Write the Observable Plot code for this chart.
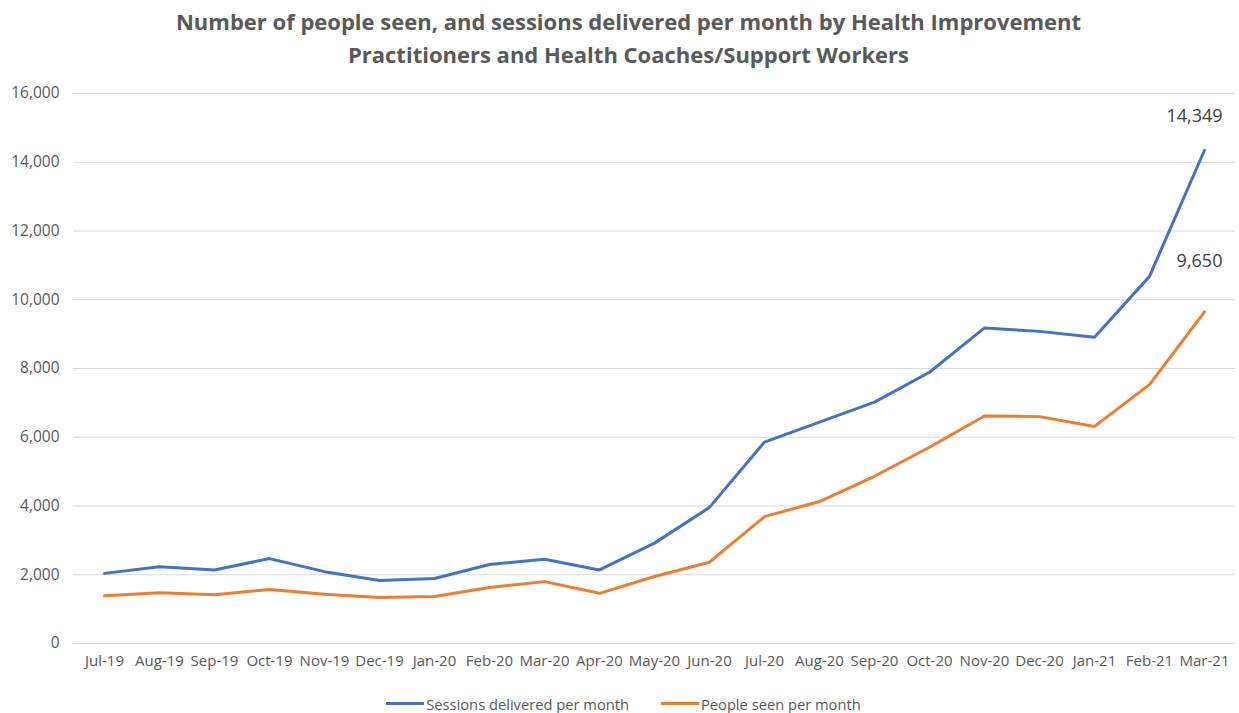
<!DOCTYPE html>
<html>
<head>
<meta charset="utf-8">
<script src="https://cdn.jsdelivr.net/npm/d3@7"></script>
<script src="https://cdn.jsdelivr.net/npm/@observablehq/plot@0.6"></script>
<style>
  body { margin: 0; background: #fff; font-family: "Open Sans", sans-serif; }
  #wrap { width: 1239px; height: 713px; position: relative; overflow: hidden; }
  #title { height: 80px; text-align: center; color: #595959; font-weight: 700; font-size: 22px; line-height: 33px; padding-top: 5px; box-sizing: border-box; padding-left: 18px; white-space: nowrap; }
  #legend { position: absolute; top: 689px; left: 0; width: 1239px; text-align: center; font-size: 14.7px; line-height: 20px; color: #595959; padding-left: 8px; box-sizing: border-box; }
  .item { display: inline-flex; align-items: center; margin: 0 16px; }
  .sw { display: inline-block; width: 38px; height: 3px; margin-right: 2px; }
</style>
</head>
<body>
<div id="wrap">
  <div id="title">Number of people seen, and sessions delivered per month by Health Improvement<br>Practitioners and Health Coaches/Support Workers</div>
  <div id="chart"></div>
  <div id="legend"></div>
</div>
<script>
const months = ["Jul-19","Aug-19","Sep-19","Oct-19","Nov-19","Dec-19","Jan-20","Feb-20","Mar-20","Apr-20","May-20","Jun-20","Jul-20","Aug-20","Sep-20","Oct-20","Nov-20","Dec-20","Jan-21","Feb-21","Mar-21"];
const sessions = [2040,2230,2140,2470,2090,1830,1890,2300,2450,2140,2920,3960,5860,6440,7020,7890,9180,9080,8910,10680,14349];
const people = [1390,1475,1420,1570,1430,1340,1370,1630,1800,1460,1950,2365,3690,4130,4865,5710,6620,6600,6315,7530,9650];
const seriesNames = ["Sessions delivered per month","People seen per month"];
const seriesColors = ["#4472C4","#ED7D31"];
const yTicks = [0,2000,4000,6000,8000,10000,12000,14000,16000];

const rows = [];
months.forEach((m,i) => {
  rows.push({month: m, value: sessions[i], series: seriesNames[0]});
  rows.push({month: m, value: people[i], series: seriesNames[1]});
});
const last = [
  {month: months[months.length-1], value: sessions[sessions.length-1]},
  {month: months[months.length-1], value: people[people.length-1]}
];
const labelShift = [[-10,-34],[-5,-51]];

const chart = Plot.plot({
  width: 1239,
  height: 612,
  marginTop: 13,
  marginBottom: 49,
  marginLeft: 73,
  marginRight: 4,
  style: {fontFamily: "Open Sans, sans-serif", fontSize: "15px", color: "#595959", background: "#fff"},
  x: {type: "point", domain: months, padding: 0.5, label: null},
  y: {domain: [0,16000], label: null},
  color: {domain: seriesNames, range: seriesColors},
  marks: [
    Plot.gridY(yTicks, {stroke: "#d9d9d9", strokeOpacity: 1, strokeWidth: 1}),
    Plot.axisX({tickSize: 0, tickPadding: 12, fontSize: 15}),
    Plot.axisY({ticks: yTicks, tickFormat: d3.format(","), tickSize: 0, tickPadding: 14, fontSize: 15.5}),
    Plot.line(rows, {x: "month", y: "value", z: "series", stroke: "series", strokeWidth: 3, strokeLinejoin: "round"}),
    Plot.text(last, {x: "month", y: "value", text: d => d3.format(",")(d.value), fontSize: 18, fill: "#404040"})
  ]
});
document.getElementById("chart").appendChild(chart);

const texts = chart.querySelectorAll("g[aria-label='text'] text");
texts.forEach((t,i) => {
  t.setAttribute("transform", (t.getAttribute("transform")||"") + ` translate(${labelShift[i][0]},${labelShift[i][1]})`);
});

const legend = document.getElementById("legend");
seriesNames.forEach((n,i) => {
  const s = document.createElement("span");
  s.className = "item";
  s.innerHTML = `<span class="sw" style="background:${seriesColors[i]}"></span>${n}`;
  legend.appendChild(s);
});
</script>
</body>
</html>
